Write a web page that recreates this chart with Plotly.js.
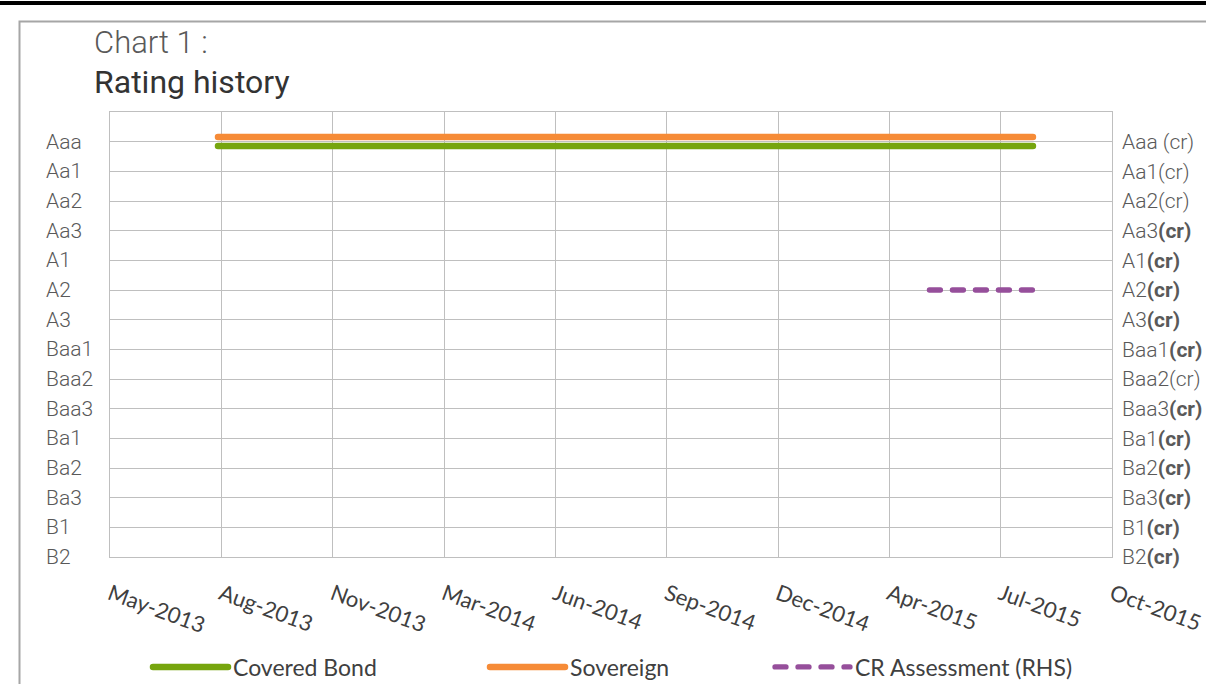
<!DOCTYPE html>
<html>
<head>
<meta charset="utf-8">
<script src="https://cdn.plot.ly/plotly-3.0.1.min.js"></script>
<style>
html,body{margin:0;padding:0;background:#fff;}
#chart{width:1206px;height:684px;}
.scatterlayer .js-line{stroke-linecap:round;}
.legendlines .js-line{stroke-linecap:round;}
</style>
</head>
<body>
<div id="chart"></div>
<script>
// ---- data ----
const ratingsLeft = ['Aaa','Aa1','Aa2','Aa3','A1','A2','A3','Baa1','Baa2','Baa3','Ba1','Ba2','Ba3','B1','B2'];
const ratingsRight = ['Aaa (cr)','Aa1(cr)','Aa2(cr)','Aa3<b>(cr)</b>','A1<b>(cr)</b>','A2<b>(cr)</b>','A3<b>(cr)</b>',
  'Baa1<b>(cr)</b>','Baa2(cr)','Baa3<b>(cr)</b>','Ba1<b>(cr)</b>','Ba2<b>(cr)</b>','Ba3<b>(cr)</b>','B1<b>(cr)</b>','B2<b>(cr)</b>'];
const tickDates = ['2013-05-10','2013-08-18','2013-11-26','2014-03-06','2014-06-14','2014-09-22','2014-12-31','2015-04-10','2015-07-19','2015-10-27'];
const tickLabels = ['May-2013','Aug-2013','Nov-2013','Mar-2014','Jun-2014','Sep-2014','Dec-2014','Apr-2015','Jul-2015','Oct-2015'];

const coveredBondDates = ['2013-08-15','2015-08-17'];
const coveredBondLevel = [14.85, 14.85];   // Aaa (numeric scale: B2 = 1 ... Aaa = 15)
const sovereignDates = ['2013-08-15','2015-08-17'];
const sovereignLevel = [15.16, 15.16];     // Aaa
const crDates = ['2015-05-16','2015-08-17'];
const crLevel = [10, 10];                  // A2(cr)

// ---- layout helpers ----
const W = 1206, H = 684;
const M = {l:110, r:94, t:112, b:127, autoexpand: false};
const pw = W - M.l - M.r, ph = H - M.t - M.b;
const px2x = px => (px - M.l) / pw;
const px2y = py => (H - M.b - py) / ph;

const n = ratingsLeft.length;
const levels = ratingsLeft.map((r,i) => n - i);
const grid = '#bfbfbf';

const traces = [
  {x: coveredBondDates, y: coveredBondLevel, name: 'Covered Bond', mode: 'lines',
   line: {color: '#76a50e', width: 6.5}, yaxis: 'y', legend: 'legend'},
  {x: sovereignDates, y: sovereignLevel, name: 'Sovereign', mode: 'lines',
   line: {color: '#f68b37', width: 6.5}, yaxis: 'y', legend: 'legend2'},
  {x: crDates, y: crLevel, name: 'CR Assessment (RHS)', mode: 'lines',
   line: {color: '#964f9b', width: 5.3, dash: '11px,12px'}, yaxis: 'y2', legend: 'legend3'}
];

const annotations = ratingsLeft.map((r,i) => ({
  text: r, xref: 'paper', yref: 'y', x: px2x(44), y: levels[i], xanchor: 'left', yanchor: 'middle',
  showarrow: false, font: {family: 'Roboto', weight: 300, size: 21, color: '#595959'}
}));

const legendBase = (xpx) => ({
  orientation: 'h', x: px2x(xpx), xanchor: 'left', y: px2y(667), yanchor: 'middle',
  font: {family: 'Lato', size: 23, color: '#404040'},
  itemwidth: 75, bgcolor: 'rgba(0,0,0,0)'
});

const layout = {
  width: W, height: H,
  margin: M,
  paper_bgcolor: '#fff', plot_bgcolor: '#fff',
  showlegend: true,
  title: {
    text: '<span style="font-weight:300;color:#595959">Chart 1 :</span><br><span style="color:#333;font-size:32px">Rating history</span>',
    x: 94 / W, xanchor: 'left', xref: 'container',
    y: 1 - 53 / H, yanchor: 'top', yref: 'container',
    font: {family: 'Roboto', size: 31, color: '#333'}
  },
  xaxis: {
    type: 'date', range: [tickDates[0], tickDates[tickDates.length-1]],
    tickmode: 'array', tickvals: tickDates, ticktext: tickLabels, tickangle: 20,
    showgrid: true, gridcolor: grid, gridwidth: 1,
    showline: true, linecolor: grid, linewidth: 1, mirror: true,
    ticks: '', ticklabelstandoff: 15, ticklabeloverflow: 'allow',
    tickfont: {family: 'Lato', size: 22, color: '#404040'},
    zeroline: false, fixedrange: true
  },
  yaxis: {
    range: [1, n + 1], tickmode: 'array', tickvals: levels.concat([n+1]), showticklabels: false,
    showgrid: true, gridcolor: grid, gridwidth: 1,
    showline: true, linecolor: grid, linewidth: 1, mirror: true,
    ticks: '', zeroline: false, fixedrange: true
  },
  yaxis2: {
    range: [1, n + 1], overlaying: 'y', side: 'right', tickmode: 'array',
    tickvals: levels, ticktext: ratingsRight,
    showgrid: false, showline: false, ticks: '', ticklabelstandoff: 9, zeroline: false,
    tickfont: {family: 'Roboto', weight: 300, size: 21, color: '#595959'}, fixedrange: true
  },
  legend: legendBase(148),
  legend2: legendBase(485),
  legend3: legendBase(770),
  annotations: annotations,
  shapes: [
    {type: 'rect', xref: 'paper', yref: 'paper', x0: px2x(-5), x1: px2x(W + 5), y0: px2y(5), y1: px2y(1),
     fillcolor: '#000', line: {width: 0}, layer: 'above'},
    {type: 'rect', xref: 'paper', yref: 'paper', x0: px2x(19.5), x1: px2x(W + 20), y0: px2y(H + 20), y1: px2y(21.5),
     fillcolor: 'rgba(0,0,0,0)', line: {color: '#a6a6a6', width: 2}, layer: 'below'}
  ]
};

Plotly.newPlot('chart', traces, layout, {displayModeBar: false, staticPlot: true});
</script>
</body>
</html>
